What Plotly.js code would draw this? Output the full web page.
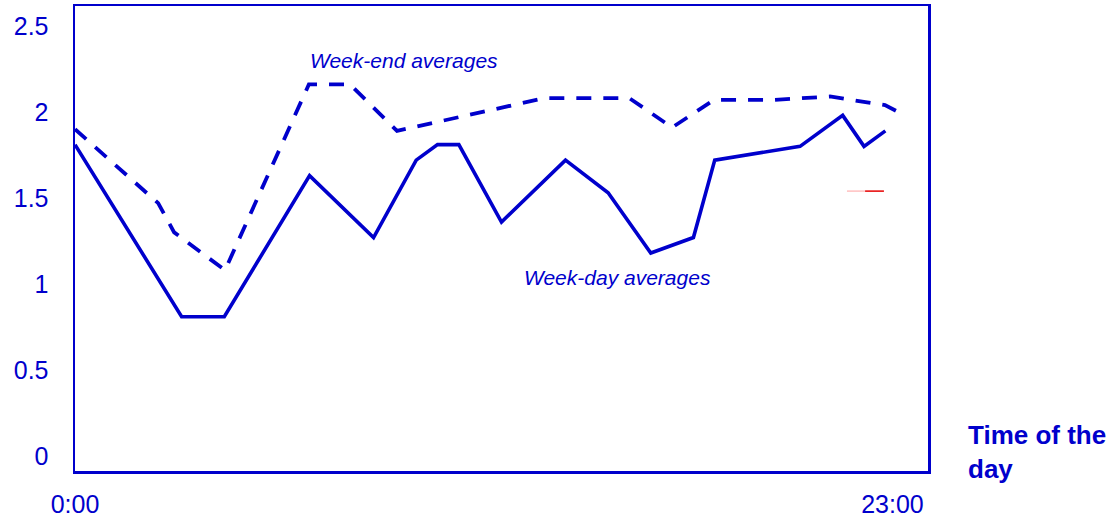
<!DOCTYPE html>
<html>
<head>
<meta charset="utf-8">
<script src="https://cdn.plot.ly/plotly-3.0.1.min.js"></script>
<style>html,body{margin:0;padding:0;background:#fff;}#chart{width:1112px;height:518px;}</style>
</head>
<body>
<div id="chart"></div>
<script>
// Time of day in hours
const weekdayHours = [0, 3, 4.2, 6.6, 8.4, 9.6, 10.2, 10.8, 12, 13.8, 15, 16.2, 17.4, 18, 20.4, 21.6, 22.2, 22.8];
const weekdayValues = [1.81, 0.81, 0.81, 1.63, 1.27, 1.72, 1.81, 1.81, 1.36, 1.72, 1.53, 1.18, 1.27, 1.72, 1.80, 1.98, 1.80, 1.89];

const weekendHours = [0, 2.34, 2.79, 4.22, 6.58, 7.74, 9.06, 13.2, 15.6, 16.8, 17.98, 19.64, 21.24, 22.79, 23.35];
const weekendValues = [1.90, 1.47, 1.30, 1.08, 2.16, 2.16, 1.89, 2.08, 2.08, 1.91, 2.07, 2.07, 2.09, 2.04, 1.98];

// small red stroke near the right edge
const redFadeHours = [21.72, 22.23];
const redSolidHours = [22.23, 22.76];
const redValues = [1.54, 1.54];

const yTickVals = [0, 0.5, 1, 1.5, 2, 2.5];
const yTickText = ["0", "0.5", "1", "1.5", "2", "2.5"];
const xTickVals = [0, 23];
const xTickText = ["0:00", "23:00"];

const weekendLabel = "Week-end averages";
const weekdayLabel = "Week-day averages";
const xTitle = "<b>Time of the<br>day</b>";

const BLUE = "rgb(0,0,204)";
const FONT = "Liberation Sans, Arial, sans-serif";

const traces = [
  {x: weekendHours, y: weekendValues, type: "scatter", mode: "lines",
   line: {color: BLUE, width: 3.8, dash: "15px,12px"}, hoverinfo: "skip"},
  {x: weekdayHours, y: weekdayValues, type: "scatter", mode: "lines",
   line: {color: BLUE, width: 3.6}, hoverinfo: "skip"},
  {x: redFadeHours, y: redValues, type: "scatter", mode: "lines",
   line: {color: "rgba(255,0,0,0.25)", width: 1.5}, hoverinfo: "skip"},
  {x: redSolidHours, y: redValues, type: "scatter", mode: "lines",
   line: {color: "rgb(230,0,0)", width: 1.5}, hoverinfo: "skip"}
];

const layout = {
  width: 1112, height: 518,
  margin: {l: 75, r: 184, t: 6, b: 47, pad: 0},
  paper_bgcolor: "#fff", plot_bgcolor: "#fff",
  showlegend: false,
  font: {family: FONT, color: BLUE, size: 25},
  xaxis: {
    range: [0, 24], showgrid: false, zeroline: false,
    showline: true, mirror: true, linecolor: BLUE, linewidth: 2.5,
    tickmode: "array", tickvals: xTickVals, ticktext: xTickText,
    ticks: "outside", ticklen: 9, tickcolor: "rgba(0,0,0,0)",
    tickfont: {family: FONT, size: 25, color: BLUE}
  },
  yaxis: {
    range: [-0.087, 2.616], showgrid: false, zeroline: false,
    showline: true, mirror: true, linecolor: BLUE, linewidth: 2.5,
    tickmode: "array", tickvals: yTickVals, ticktext: yTickText,
    ticks: "outside", ticklen: 19, tickcolor: "rgba(0,0,0,0)",
    tickfont: {family: FONT, size: 25, color: BLUE}
  },
  annotations: [
    {text: weekendLabel, x: 9.26, y: 2.30, xref: "x", yref: "y",
     showarrow: false, xanchor: "center", yanchor: "middle",
     font: {family: FONT, size: 21, color: BLUE, style: "italic"}},
    {text: weekdayLabel, x: 15.25, y: 1.04, xref: "x", yref: "y",
     showarrow: false, xanchor: "center", yanchor: "middle",
     font: {family: FONT, size: 21, color: BLUE, style: "italic"}},
    {text: xTitle, x: 1.044, y: 0.04, xref: "paper", yref: "paper",
     showarrow: false, xanchor: "left", yanchor: "middle", align: "left",
     font: {family: FONT, size: 26, color: BLUE}}
  ]
};

Plotly.newPlot("chart", traces, layout, {staticPlot: true, displayModeBar: false});
</script>
</body>
</html>
